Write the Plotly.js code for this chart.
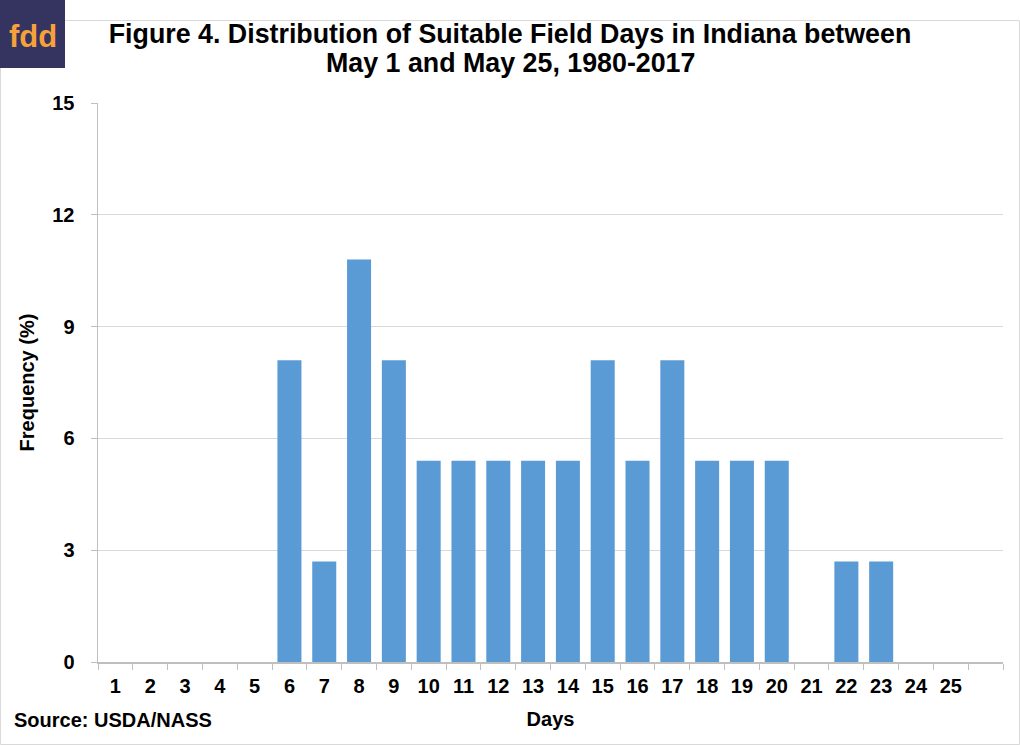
<!DOCTYPE html>
<html>
<head>
<meta charset="utf-8">
<script src="https://cdn.plot.ly/plotly-3.0.1.min.js"></script>
<style>
html,body{margin:0;padding:0;background:#fff;}
#chart{width:1020px;height:745px;}
</style>
</head>
<body>
<div id="chart"></div>
<script>
const days = ['1','2','3','4','5','6','7','8','9','10','11','12','13','14','15','16','17','18','19','20','21','22','23','24','25'];
const frequency = [0,0,0,0,0,8.1,2.7,10.8,8.1,5.4,5.4,5.4,5.4,5.4,8.1,5.4,8.1,5.4,5.4,5.4,0,2.7,2.7,0,0];
const yTicks = [0,3,6,9,12,15];
const titleLines = ['Figure 4. Distribution of Suitable Field Days in Indiana between', 'May 1 and May 25, 1980-2017'];

const fam = 'Liberation Sans, Arial, sans-serif';
const trace = {
  type:'bar', x:days, y:frequency,
  marker:{color:'#5b9bd5'},
  width:0.69,
  hoverinfo:'x+y'
};
const layout = {
  width:1020, height:745,
  margin:{l:98, r:17, t:103, b:83},
  paper_bgcolor:'#fff', plot_bgcolor:'#fff',
  showlegend:false,
  title:{text:'<b>'+titleLines[0]+'</b>',
    x:0.5, xanchor:'center', y:0.955, yanchor:'middle',
    font:{family:fam, size:26.8, color:'#000'}},
  xaxis:{
    type:'category', categoryorder:'array', categoryarray:days.concat([' ']),
    range:[-0.5,25.5],
    tickson:'boundaries', ticks:'outside', ticklen:6, tickcolor:'#bfbfbf', tickwidth:1,
    showline:true, linecolor:'#bfbfbf', linewidth:1.5,
    showgrid:false, zeroline:false,
    tickfont:{family:fam, size:20, color:'#000', weight:'bold'},
    ticklabelstandoff:5,
    title:{text:'<b>Days</b>', font:{family:fam, size:20, color:'#000'}, standoff:16}
  },
  yaxis:{
    range:[0,15], tickvals:yTicks, ticktext:yTicks.map(v=>'<b>'+v+'</b>'),
    ticks:'outside', ticklen:6, tickcolor:'#bfbfbf',
    showline:true, linecolor:'#bfbfbf', linewidth:1.5,
    showgrid:true, gridcolor:'#d9d9d9', gridwidth:1, zeroline:false,
    tickfont:{family:fam, size:20, color:'#000'},
    ticklabelstandoff:12,
    title:{text:'<b>Frequency (%)</b>', font:{family:fam, size:20, color:'#000'}, standoff:12}
  },
  shapes:[
    {type:'rect', xref:'paper', yref:'paper', xsizemode:'pixel', ysizemode:'pixel',
     xanchor:0, yanchor:1, x0:-98, x1:-33, y0:103, y1:35, fillcolor:'#35335f', line:{width:0}, layer:'above'},
    {type:'rect', xref:'paper', yref:'paper', xsizemode:'pixel', ysizemode:'pixel',
     xanchor:0, yanchor:0, x0:-97.5, x1:921.5, y0:-82.5, y1:641.5, fillcolor:'rgba(0,0,0,0)', line:{width:1,color:'#d9d9d9'}, layer:'below'}
  ],
  annotations:[
    {text:'<b>'+titleLines[1]+'</b>', xref:'paper', yref:'paper', x:0, y:1, xshift:412.5, yshift:40,
     showarrow:false, xanchor:'center', yanchor:'middle',
     font:{family:fam, size:26.8, color:'#000'}},
    {text:'<b>fdd</b>', xref:'paper', yref:'paper', x:0, y:1, xshift:-65.5, yshift:67,
     showarrow:false, xanchor:'center', yanchor:'middle',
     font:{family:fam, size:31, color:'#f7a13b'}},
    {text:'<b>Source: USDA/NASS</b>', xref:'paper', yref:'paper', x:0, y:0, xshift:-86, yshift:-58,
     showarrow:false, xanchor:'left', yanchor:'middle',
     font:{family:fam, size:20, color:'#000'}}
  ]
};
Plotly.newPlot('chart',[trace],layout,{displayModeBar:false, staticPlot:true});
</script>
</body>
</html>
